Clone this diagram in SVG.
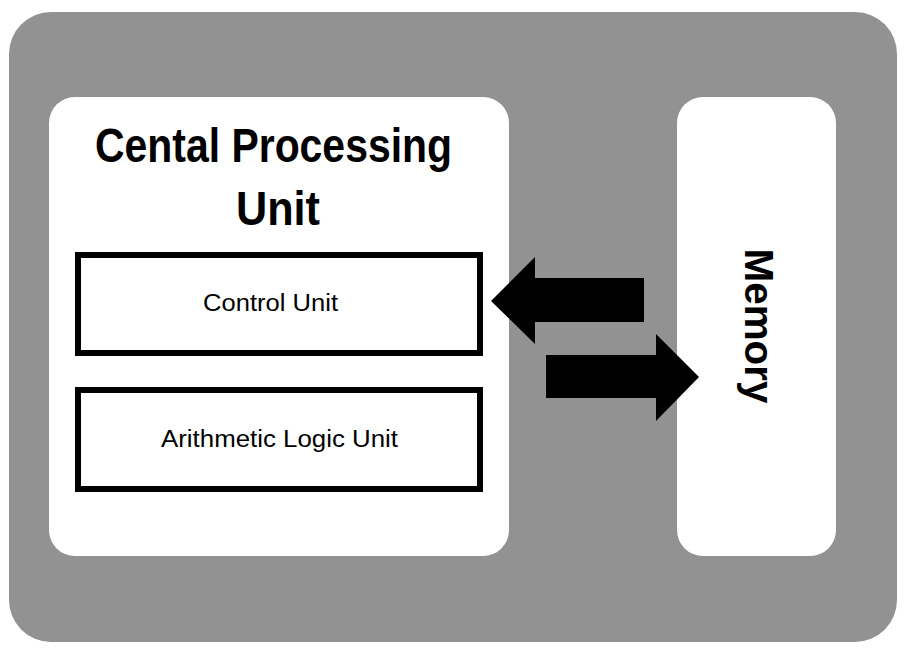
<svg xmlns="http://www.w3.org/2000/svg" width="906" height="654" viewBox="0 0 906 654">
<style>
.panel{fill:#ffffff}
.box{fill:#ffffff;stroke:#000000;stroke-width:6}
.arrow{fill:#000000}
.t{font-family:"Liberation Sans",Arial,sans-serif;fill:#000000;text-anchor:middle}
.title{font-size:48px;font-weight:bold}
.lbl{font-size:23px}
</style>
<rect x="9" y="12" width="888" height="630" rx="42" ry="42" fill="#929292"/>
<g id="cpu">
<rect class="panel" x="49" y="97" width="460" height="459" rx="26" ry="26"/>
<text class="t title" x="273.5" y="162" textLength="357" lengthAdjust="spacingAndGlyphs">Cental Processing</text>
<text class="t title" x="278" y="225" textLength="84" lengthAdjust="spacingAndGlyphs">Unit</text>
</g>
<g id="control-unit">
<rect class="box" x="78" y="255" width="402" height="98"/>
<text class="t lbl" x="270.5" y="311" textLength="135" lengthAdjust="spacingAndGlyphs">Control Unit</text>
</g>
<g id="alu">
<rect class="box" x="78" y="390" width="402" height="99"/>
<text class="t lbl" x="279.5" y="447" textLength="237" lengthAdjust="spacingAndGlyphs">Arithmetic Logic Unit</text>
</g>
<g id="memory">
<rect class="panel" x="677" y="97" width="159" height="459" rx="26" ry="26"/>
<text class="t" x="0" y="0" font-size="41" font-weight="bold" transform="translate(745 326) rotate(90)" textLength="155" lengthAdjust="spacingAndGlyphs">Memory</text>
</g>
<g id="connectors">
<polygon class="arrow" points="491,301 535,257 535,278 644,278 644,322 535,322 535,344"/>
<polygon class="arrow" points="699,377 656,334 656,355 546,355 546,398 656,398 656,421"/>
</g>
</svg>
